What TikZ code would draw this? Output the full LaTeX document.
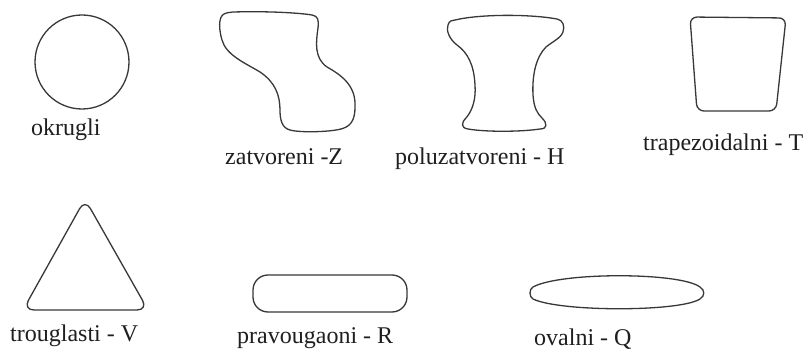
\documentclass[tikz,border=0pt]{standalone}
\usepackage{fontspec}
\setmainfont{Liberation Serif}
\begin{document}
\begin{tikzpicture}[x=1pt,y=-1pt,
  outline/.style={draw=black!78,line width=1.3pt,line join=round},
  lbl/.style={anchor=base west,inner sep=0pt,text=black!88,font=\fontsize{24}{28}\selectfont}]
\useasboundingbox[fill=white] (0,0) rectangle (812,350);
% okrugli
\draw[outline] (82,62) circle[radius=47];
\node[lbl] (lokr) at (31,136) {okrugli};
% zatvoreni
\draw[outline] (233,12) .. controls (270,11) and (300,13) .. (312,15)
  .. controls (318,16) and (319,20) .. (318,28)
  .. controls (316,42) and (314,58) .. (327,67)
  .. controls (345,77) and (356,88) .. (355,107)
  .. controls (355,118) and (352,125) .. (344,128)
  .. controls (335,132) and (300,133) .. (290,130)
  .. controls (282,128) and (280,120) .. (280,110)
  .. controls (280,95) and (275,82) .. (260,72)
  .. controls (245,63) and (226,55) .. (222,40)
  .. controls (219,30) and (218,17) .. (224,14)
  .. controls (226,13) and (230,12) .. cycle;
\node[lbl] (lzat) at (225,165) {zatvoreni -Z};
% poluzatvoreni
\draw[outline] (455,20) .. controls (480,14) and (530,14) .. (557,19)
  .. controls (563,20) and (565,26) .. (563,32)
  .. controls (561,38) and (552,42) .. (546,47)
  .. controls (536,57) and (532,75) .. (533,95)
  .. controls (534,108) and (537,113) .. (542,118)
  .. controls (548,124) and (547,129) .. (540,129)
  .. controls (520,132) and (485,132) .. (468,129)
  .. controls (461,128) and (461,123) .. (466,118)
  .. controls (473,110) and (476,98) .. (475,85)
  .. controls (474,65) and (468,53) .. (457,45)
  .. controls (449,39) and (446,30) .. (448,25)
  .. controls (449,21) and (452,20) .. cycle;
\node[lbl] (lpol) at (395,165) {poluzatvoreni - H};
% trapezoidalni
\draw[outline,rounded corners=7pt] (690,17) -- (786,18) -- (776,111) -- (697,111) -- cycle;
\node[lbl] (ltra) at (643,151) {trapezoidalni - T};
% trouglasti
\draw[outline,rounded corners=11pt] (85,199) -- (148,310) -- (23,310) -- cycle;
\node[lbl] (ltro) at (10,341) {trouglasti - V};
% pravougaoni
\draw[outline,rounded corners=15pt] (253,275) rectangle (407,312);
\node[lbl] (lpra) at (237,343) {pravougaoni - R};
% ovalni
\draw[outline] (533,287) .. controls (560,272) and (680,272) .. (700,287)
  .. controls (705,290) and (705,296) .. (700,299)
  .. controls (680,312) and (560,312) .. (533,299)
  .. controls (529,297) and (529,289) .. cycle;
\node[lbl] (lova) at (534,345) {ovalni - Q};
\end{tikzpicture}
\end{document}
